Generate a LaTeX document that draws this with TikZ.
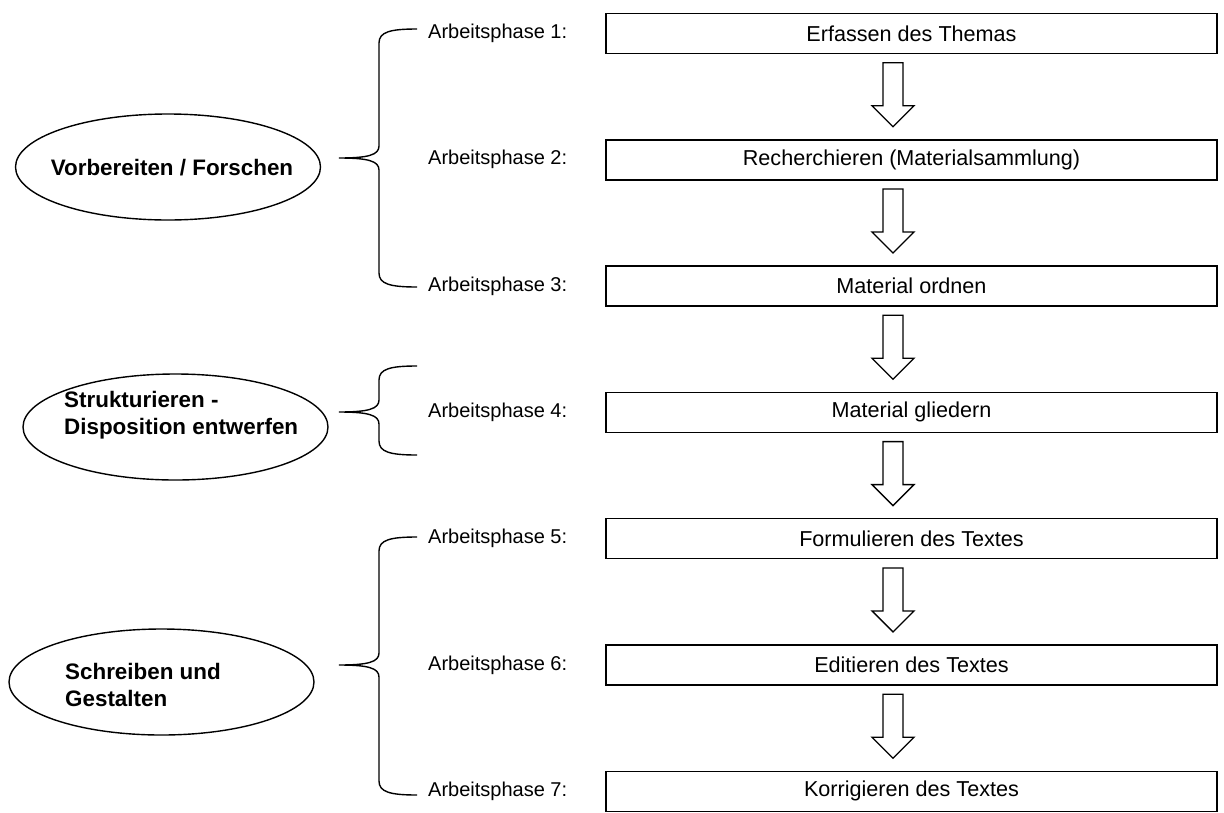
\documentclass[tikz,border=0pt]{standalone}
\usepackage{fontspec}
\setmainfont{Liberation Sans}
\usetikzlibrary{shapes.geometric}
\tikzset{
	phase/.style={draw, line width=1.4pt, minimum width=611pt, minimum height=40pt, inner sep=0pt, font=\fontsize{21.6}{26}\selectfont},
	lab/.style={anchor=west, inner sep=0pt, font=\fontsize{20}{24}\selectfont},
	stage/.style={draw, ellipse, line width=1.4pt, minimum width=305pt, minimum height=106pt, inner sep=0pt},
	stagetext/.style={align=left, inner sep=0pt, font=\fontsize{22.4}{27}\selectfont\bfseries},
	blockarrow/.style={draw, line width=1.3pt, fill=white, line join=miter},
	klammer/.style={line width=1.4pt}
}
\begin{document}
\begin{tikzpicture}[x=1pt,y=-1pt]
			\useasboundingbox (0,0) rectangle (1224,812);
			\foreach \i/\txt in {1/Erfassen des Themas,2/Recherchieren (Materialsammlung),3/Material ordnen,4/Material gliedern,5/Formulieren des Textes,6/Editieren des Textes,7/Korrigieren des Textes}
			{
				\pgfmathsetmacro{\yy}{33.5+126.3*(\i-1)}
				\node[phase] (box\i) at (911.5,\yy) {\txt};
				\node[lab] (lab\i) at (428,\yy) {Arbeitsphase \i:};
			}
			%Pfeile zwischen den Kästen
			\foreach \i in {1,...,6}
			\draw[blockarrow, shift={(box\i.south)}] (-28.5,8.5) -- (-8.5,8.5) -- (-8.5,51.5) -- (2.5,51.5) -- (-18.5,72.5) -- (-39.5,51.5) -- (-28.5,51.5) -- cycle;
			%Klammern
			\foreach \t/\m/\b in {29/158/287,366/412/455,537/665/795}
			\draw[klammer] (417,\t) .. controls (390,\t) and (379,\t+3) .. (379,\t+14) -- (379,\m-12)
			.. controls (379,\m-3) and (368,\m) .. (339,\m)
			.. controls (368,\m) and (379,\m+3) .. (379,\m+12) -- (379,\b-14)
			.. controls (379,\b-3) and (390,\b) .. (417,\b);
			\node[stage] (vorb) at (168,167) {};
			\node[stagetext] (vorbtxt) at (172,168) {Vorbereiten / Forschen};
			\node[stage] (struk) at (175.5,427) {};
			\node[stagetext, anchor=west] (struktxt) at (64,415) {Strukturieren -\\Disposition entwerfen};
			\node[stage] (schreib) at (161.5,682) {};
			\node[stagetext, anchor=west] (schreibtxt) at (65,685) {Schreiben und\\Gestalten};
		\end{tikzpicture}
\end{document}
